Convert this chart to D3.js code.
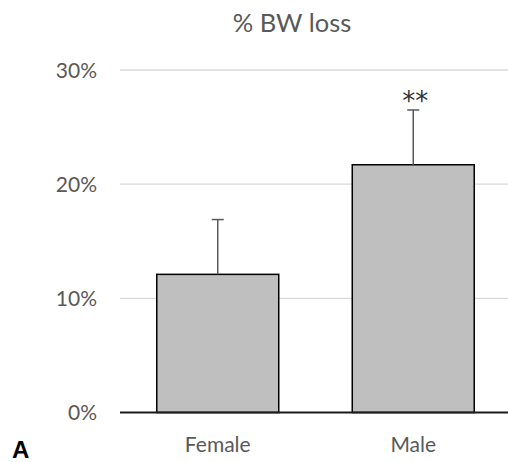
<!DOCTYPE html>
<html><head><meta charset="utf-8">
<script src="https://cdn.jsdelivr.net/npm/d3@7"></script>
<style>html,body{margin:0;padding:0;background:#fff;overflow:hidden}</style>
</head><body>
<svg id="chart" width="508" height="462"></svg>
<script>
const categories = ["Female", "Male"];
const values = [0.121, 0.217];
const errors = [0.048, 0.048];
const significance = ["", "**"];
const yTicks = [0, 0.1, 0.2, 0.3];
const title = "% BW loss";
const panelLabel = "A";

const svg = d3.select("#chart");
const font = "Lato, 'Open Sans', sans-serif";
const textColor = "#595959";

const x = d3.scaleBand().domain(categories).range([120, 511]).paddingInner(0.376).paddingOuter(0.188);
const y = d3.scaleLinear().domain([0, 0.3]).range([412.5, 70]);

// gridlines
svg.append("g").selectAll("line").data(yTicks.filter(d => d > 0)).join("line")
  .attr("x1", 120).attr("x2", 511)
  .attr("y1", d => y(d)).attr("y2", d => y(d))
  .attr("stroke", "#d9d9d9").attr("stroke-width", 1.3);

// y tick labels
svg.append("g").selectAll("text").data(yTicks).join("text")
  .attr("x", 97).attr("y", d => y(d) + 7.5)
  .attr("text-anchor", "end")
  .attr("font-family", font).attr("font-size", 21)
  .attr("fill", textColor)
  .text(d => d3.format(".0%")(d));

// bars
svg.append("g").selectAll("rect").data(categories).join("rect")
  .attr("x", d => x(d)).attr("width", x.bandwidth())
  .attr("y", (d, i) => y(values[i]))
  .attr("height", (d, i) => y(0) - y(values[i]))
  .attr("fill", "#bfbfbf").attr("stroke", "#000").attr("stroke-width", 1.5);

// error bars
const eg = svg.append("g").attr("stroke", "#595959").attr("stroke-width", 1.5);
categories.forEach((c, i) => {
  const cx = x(c) + x.bandwidth() / 2;
  eg.append("line").attr("x1", cx).attr("x2", cx)
    .attr("y1", y(values[i])).attr("y2", y(values[i] + errors[i]));
  eg.append("line").attr("x1", cx - 6).attr("x2", cx + 6)
    .attr("y1", y(values[i] + errors[i])).attr("y2", y(values[i] + errors[i]));
});

// significance
svg.append("g").selectAll("text").data(categories).join("text")
  .attr("x", d => x(d) + x.bandwidth() / 2 + 2)
  .attr("y", (d, i) => y(values[i] + errors[i]) + 0.5)
  .attr("text-anchor", "middle")
  .attr("font-family", "'DejaVu Sans', sans-serif").attr("font-size", 26)
  .attr("fill", "#333")
  .text((d, i) => significance[i]);

// x axis line
svg.append("line").attr("x1", 120).attr("x2", 511)
  .attr("y1", y(0)).attr("y2", y(0))
  .attr("stroke", "#1a1a1a").attr("stroke-width", 1.8);

// x labels
svg.append("g").selectAll("text").data(categories).join("text")
  .attr("x", d => x(d) + x.bandwidth() / 2).attr("y", 451.5)
  .attr("text-anchor", "middle")
  .attr("font-family", font).attr("font-size", 21)
  .attr("fill", textColor)
  .text(d => d);

// title
svg.append("text").attr("x", 292).attr("y", 31.7)
  .attr("text-anchor", "middle")
  .attr("font-family", font).attr("font-size", 25.5)
  .attr("fill", textColor).text(title);

// panel label
svg.append("text").attr("x", 12).attr("y", 457.5)
  .attr("font-family", "'Liberation Sans', Arial, sans-serif").attr("font-weight", "bold")
  .attr("font-size", 24).attr("fill", "#000").text(panelLabel);
</script>
</body></html>
